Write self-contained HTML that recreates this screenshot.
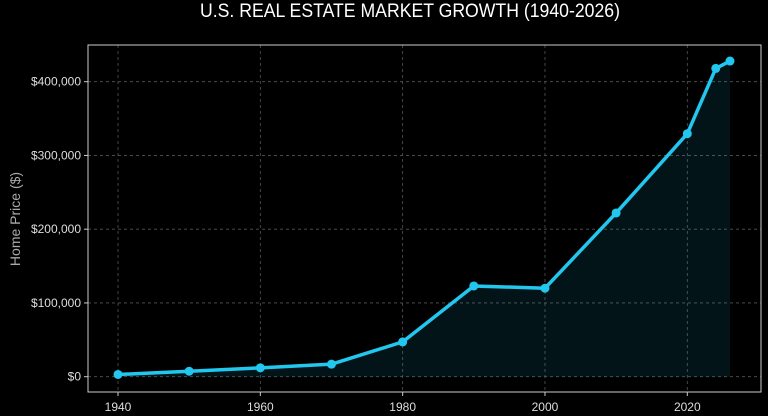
<!DOCTYPE html>
<html><head><meta charset="utf-8"><style>
html,body{margin:0;padding:0;background:#000;}
svg{display:block;font-family:"Liberation Sans",sans-serif;}
</style></head><body>
<svg id="chart" width="768" height="416" viewBox="0 0 768 416">
<rect x="0" y="0" width="768" height="416" fill="#000"/>
<text x="410" y="17" text-anchor="middle" fill="#fff" font-size="19" textLength="420" lengthAdjust="spacingAndGlyphs">U.S. REAL ESTATE MARKET GROWTH (1940-2026)</text>
<text transform="translate(20,219) rotate(-90)" text-anchor="middle" fill="#aaa" font-size="14">Home Price ($)</text>
<g id="grid"></g>
<g id="marks"></g>
<rect x="88" y="45" width="673" height="347" fill="none" stroke="#ccc" stroke-width="1"/>
<g id="axes"></g>
</svg>
<script>
const years = [1940,1950,1960,1970,1980,1990,2000,2010,2020,2024,2026];
const prices = [3000,7400,12000,17000,47200,123000,120000,222000,329500,418000,428000];
const xTicks = [1940,1960,1980,2000,2020];
const yTicks = [0,100000,200000,300000,400000];
const yTickLabels = ["$0","$100,000","$200,000","$300,000","$400,000"];

const NS="http://www.w3.org/2000/svg";
const L=88,R=761,T=45,B=392;
function x(v){return 118+(v-1940)*(687.3-118)/80;}
function y(v){return 376.7-v*73.75/100000;}
function mk(tag,attrs,parent){const e=document.createElementNS(NS,tag);for(const k in attrs)e.setAttribute(k,attrs[k]);parent.appendChild(e);return e;}
const grid=document.getElementById('grid'),marks=document.getElementById('marks'),axes=document.getElementById('axes');
xTicks.forEach(t=>{
  const l=mk('line',{x1:x(t),x2:x(t),y1:T,y2:B,stroke:'#555','stroke-dasharray':'3,3','stroke-width':0.8},grid);
  
  
  const tk=mk('line',{x1:x(t),x2:x(t),y1:B,y2:B+4,stroke:'#ccc'},axes);
  
  
  const tx=mk('text',{x:x(t),y:B+19,'text-anchor':'middle',fill:'#ddd','font-size':12},axes);
  tx.textContent=t;
  
  
});
yTicks.forEach((t,i)=>{
  const l=mk('line',{x1:L,x2:R,y1:y(t),y2:y(t),stroke:'#555','stroke-dasharray':'3,3','stroke-width':0.8},grid);
  
  
  const tk=mk('line',{x1:L-4,x2:L,y1:y(t),y2:y(t),stroke:'#ccc'},axes);
  
  
  const tx=mk('text',{x:L-7,y:y(t)+4,'text-anchor':'end',fill:'#ddd','font-size':12},axes);
  tx.textContent=yTickLabels[i];
  
  
});
let pts=years.map((yr,i)=>x(yr)+','+y(prices[i]));
const area=mk('polygon',{points:x(years[0])+','+y(0)+' '+pts.join(' ')+' '+x(years[years.length-1])+','+y(0),fill:'rgba(34,199,239,0.1)'},marks);


const line=mk('polyline',{points:pts.join(' '),fill:'none',stroke:'#22c7ef','stroke-width':3.5,'stroke-linejoin':'round'},marks);


years.forEach((yr,i)=>{
  const c=mk('circle',{cx:x(yr),cy:y(prices[i]),r:4.5,fill:'#22c7ef'},marks);
  
  
});
</script>
</body></html>
